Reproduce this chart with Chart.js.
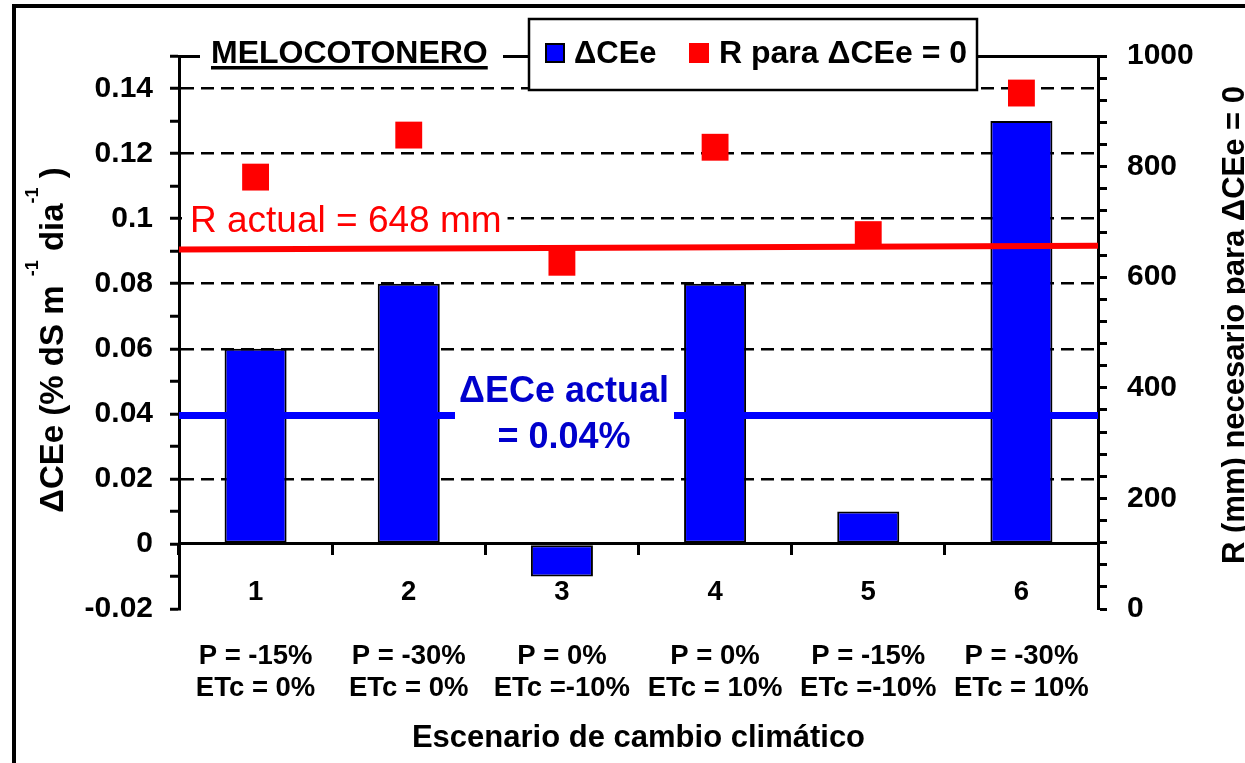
<!DOCTYPE html>
<html>
<head>
<meta charset="utf-8">
<script src="https://cdn.jsdelivr.net/npm/chart.js@4/dist/chart.umd.min.js"></script>
<style>
html,body{margin:0;padding:0;background:#fff;}
canvas{display:block;}
</style>
</head>
<body>
<canvas id="c" width="1245" height="763"></canvas>
<script>
// ---- data ----
const categories = ['1', '2', '3', '4', '5', '6'];
const precipLabels = ['P = -15%', 'P = -30%', 'P = 0%', 'P = 0%', 'P = -15%', 'P = -30%'];
const etcLabels = ['ETc = 0%', 'ETc = 0%', 'ETc =-10%', 'ETc = 10%', 'ETc =-10%', 'ETc = 10%'];
const deltaCEe = [0.06, 0.08, -0.01, 0.08, 0.01, 0.13];
const rNeeded = [781, 857, 627, 835, 677, 933];
const rActualLine = [650, 657];
const ceActualLine = [0.0395, 0.0395];
const leftTicks = [-0.02, -0.01, 0, 0.01, 0.02, 0.03, 0.04, 0.05, 0.06, 0.07, 0.08, 0.09, 0.10, 0.11, 0.12, 0.13, 0.14, 0.15];
const leftTickLabels = ['-0.02', '', '0', '', '0.02', '', '0.04', '', '0.06', '', '0.08', '', '0.1', '', '0.12', '', '0.14', ''];
const rightTicks = [0, 40, 80, 120, 160, 200, 240, 280, 320, 360, 400, 440, 480, 520, 560, 600, 640, 680, 720, 760, 800, 840, 880, 920, 960, 1000];
const rightTickLabels = ['0', '', '', '', '', '200', '', '', '', '', '400', '', '', '', '', '600', '', '', '', '', '800', '', '', '', '', '1000'];

const FONT = "'Liberation Sans', Arial, Helvetica, sans-serif";
Chart.defaults.font.family = FONT;
Chart.defaults.color = '#000';

const overlay = {
  id: 'overlay',
  afterDraw(chart) {
    const ctx = chart.ctx;
    const ca = chart.chartArea;
    const ds = chart.data.datasets;
    ctx.save();
    // outer frame
    ctx.strokeStyle = '#000';
    ctx.lineWidth = 4;
    ctx.beginPath();
    ctx.moveTo(14, 763); ctx.lineTo(14, 6); ctx.lineTo(1245, 6);
    ctx.stroke();

    // title
    ctx.fillStyle = '#fff';
    ctx.fillRect(200, 30, 303, 48);
    ctx.fillStyle = '#000';
    ctx.font = 'bold 32px ' + FONT;
    ctx.textAlign = 'left';
    ctx.textBaseline = 'alphabetic';
    ctx.fillText('MELOCOTONERO', 211, 63);
    const tw = ctx.measureText('MELOCOTONERO').width;
    ctx.fillRect(211, 66, tw, 3.5);

    // legend
    ctx.fillStyle = '#fff';
    ctx.fillRect(529, 19, 448, 71);
    ctx.lineWidth = 2.5;
    ctx.strokeStyle = '#000';
    ctx.strokeRect(529, 19, 448, 71);
    const barDs = ds[3], ptDs = ds[0];
    ctx.fillStyle = barDs.backgroundColor;
    ctx.fillRect(546, 44, 18, 18);
    ctx.lineWidth = 2;
    ctx.strokeRect(546, 44, 18, 18);
    ctx.fillStyle = '#000';
    ctx.font = 'bold 31px ' + FONT;
    ctx.fillText(barDs.label, 574, 63);
    ctx.fillStyle = ptDs.backgroundColor;
    ctx.fillRect(689, 43, 20, 20);
    ctx.fillStyle = '#000';
    ctx.font = 'bold 32px ' + FONT;
    ctx.fillText(ptDs.label, 719, 63);

    // R actual text
    ctx.font = '37px ' + FONT;
    const rt = 'R actual = 648 mm';
    const rw = ctx.measureText(rt).width;
    ctx.fillStyle = '#fff';
    ctx.fillRect(182, 203, rw + 14, 38);
    ctx.fillStyle = '#ff0000';
    ctx.fillText(rt, 190, 232);

    // ΔECe actual text
    ctx.fillStyle = '#fff';
    ctx.fillRect(455, 409, 219, 15);
    ctx.fillStyle = '#0000cc';
    ctx.font = 'bold 36px ' + FONT;
    ctx.textAlign = 'center';
    ctx.textBaseline = 'middle';
    ctx.fillText('\u0394ECe actual', 564, 392);
    ctx.fillText('= 0.04%', 564, 438);

    // left axis title with superscripts
    ctx.fillStyle = '#000';
    ctx.save();
    ctx.translate(63, 340);
    ctx.rotate(-Math.PI / 2);
    ctx.textAlign = 'left';
    ctx.textBaseline = 'alphabetic';
    const big = 'bold 33px ' + FONT, small = 'bold 18px ' + FONT;
    const segs = [['\u0394CEe (% dS m ', big, 0], ['-1', small, -25], [' dia', big, 0], ['-1', small, -25], [' )', big, 0]];
    let total = 0;
    segs.forEach(s => { ctx.font = s[1]; total += ctx.measureText(s[0]).width; });
    let x = -total / 2;
    segs.forEach(s => { ctx.font = s[1]; ctx.fillText(s[0], x, s[2]); x += ctx.measureText(s[0]).width; });
    ctx.restore();

    // right axis title
    ctx.save();
    ctx.translate(1244, 325);
    ctx.rotate(-Math.PI / 2);
    ctx.textAlign = 'center';
    ctx.textBaseline = 'alphabetic';
    ctx.font = 'bold 31px ' + FONT;
    ctx.fillText('R (mm) necesario para \u0394CEe = 0', 0, 0);
    ctx.restore();

    // x axis title
    ctx.textAlign = 'center';
    ctx.textBaseline = 'alphabetic';
    ctx.font = 'bold 31px ' + FONT;
    ctx.fillText('Escenario de cambio clim\u00e1tico', (ca.left + ca.right) / 2, 747);
    ctx.restore();
  }
};

new Chart(document.getElementById('c'), {
  type: 'bar',
  data: {
    labels: categories.map((c, i) => [c, '', precipLabels[i], etcLabels[i]]),
    datasets: [
      {
        type: 'line', label: 'R para \u0394CEe = 0', data: rNeeded,
        xAxisID: 'x', yAxisID: 'y2', showLine: false,
        pointStyle: 'rect', pointRadius: 19, pointBorderWidth: 0,
        backgroundColor: '#ff0000', borderColor: '#ff0000', pointBackgroundColor: '#ff0000',
        order: 0
      },
      {
        type: 'line', label: 'R actual', data: [{x: 0, y: rActualLine[0]}, {x: 1, y: rActualLine[1]}],
        xAxisID: 'xl', yAxisID: 'y2', borderColor: '#ff0000', borderWidth: 6, pointRadius: 0,
        order: 1
      },
      {
        type: 'line', label: '\u0394ECe actual', data: [{x: 0, y: ceActualLine[0]}, {x: 1, y: ceActualLine[1]}],
        xAxisID: 'xl', yAxisID: 'y', borderColor: '#0000ff', borderWidth: 7, pointRadius: 0,
        order: 1
      },
      {
        type: 'bar', label: '\u0394CEe', data: deltaCEe, xAxisID: 'x', yAxisID: 'y',
        backgroundColor: '#0000ff', borderColor: '#000', borderWidth: 2, borderSkipped: false,
        grouped: false, categoryPercentage: 1, barPercentage: 0.405, order: 2
      }
    ]
  },
  options: {
    responsive: false,
    devicePixelRatio: 1,
    animation: false,
    events: [],
    layout: {padding: {left: 0, right: 0, top: 56, bottom: 154}},
    plugins: {legend: {display: false}, tooltip: {enabled: false}, title: {display: false}},
    scales: {
      x: {
        type: 'category', position: {y: 0}, offset: true,
        grid: {display: true, offset: true, drawOnChartArea: false, drawTicks: true, tickLength: 10, tickColor: '#000', tickWidth: 3},
        border: {display: true, color: '#000', width: 3, z: 1},
        ticks: {autoSkip: false, maxRotation: 0, minRotation: 0, padding: 22, color: '#000',
          font: {size: 27.5, weight: 'bold', lineHeight: '32px'}}
      },
      xl: {
        type: 'linear', position: 'top', min: 0, max: 1, display: true, offset: false,
        grid: {display: false, drawTicks: false, offset: false},
        ticks: {display: false},
        border: {display: true, color: '#000', width: 3},
        afterFit(s) { s.height = 0; }
      },
      y: {
        type: 'linear', position: 'left', min: -0.02, max: 0.15,
        afterBuildTicks(s) { s.ticks = leftTicks.map(v => ({value: v})); },
        afterFit(s) { s.width = 179; },
        grid: {
          display: true, drawOnChartArea: true, drawTicks: true, tickLength: 9, tickWidth: 3, tickColor: '#000',
          color: (c) => (leftTickLabels[c.index] && leftTicks[c.index] > 0) ? '#000' : 'rgba(0,0,0,0)',
          lineWidth: 2.5
        },
        border: {display: true, color: '#000', width: 3, dash: [13, 7]},
        ticks: {autoSkip: false, padding: 17, color: '#000', font: {size: 30, weight: 'bold'}, callback: (v, i) => leftTickLabels[i]}
      },
      y2: {
        type: 'linear', position: 'right', min: 0, max: 1000,
        afterBuildTicks(s) { s.ticks = rightTicks.map(v => ({value: v})); },
        afterFit(s) { s.width = 147; },
        grid: {display: true, drawOnChartArea: false, drawTicks: true, tickLength: 9, tickWidth: 3, tickColor: '#000'},
        border: {display: true, color: '#000', width: 3},
        ticks: {autoSkip: false, padding: 20, color: '#000', font: {size: 30, weight: 'bold'}, callback: (v, i) => rightTickLabels[i]}
      }
    }
  },
  plugins: [overlay]
});
</script>
</body>
</html>
